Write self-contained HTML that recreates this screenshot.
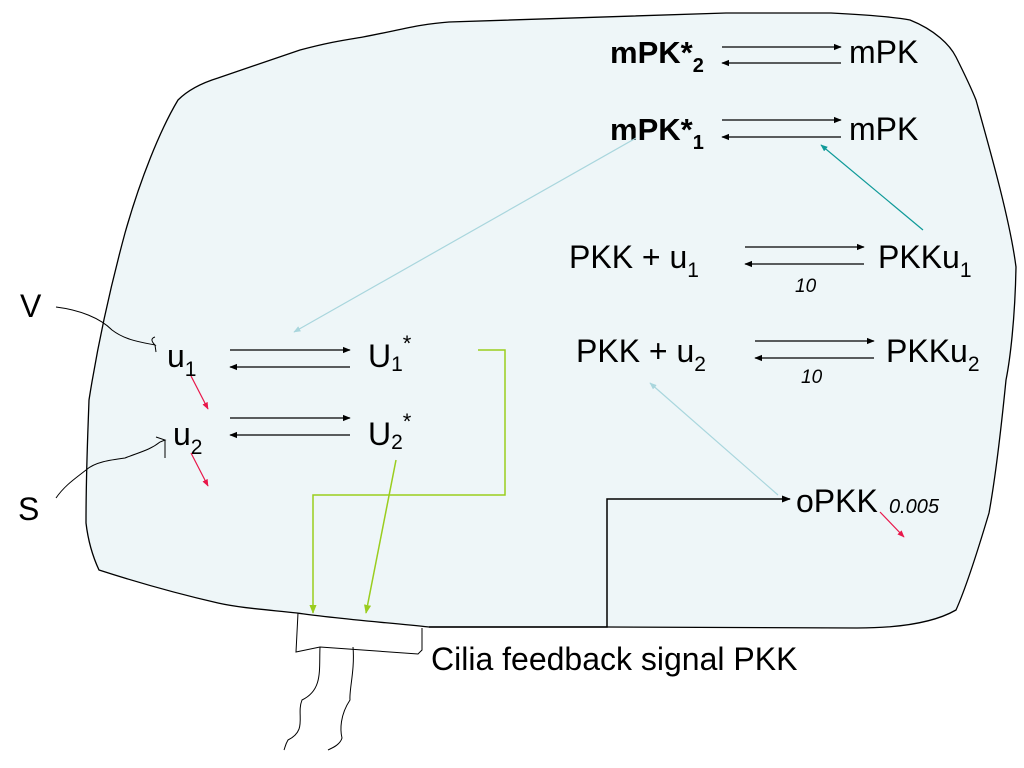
<!DOCTYPE html>
<html><head><meta charset="utf-8"><style>
html,body{margin:0;padding:0;background:#fff}
svg{display:block}
text{font-family:"Liberation Sans",sans-serif;fill:#000}
</style></head><body>
<svg width="1024" height="768" viewBox="0 0 1024 768" xmlns="http://www.w3.org/2000/svg">
<defs>
<marker id="ab" viewBox="0 0 10 10" refX="9" refY="5" markerWidth="6" markerHeight="6" orient="auto-start-reverse"><path d="M0,1 L10,5 L0,9 z" fill="#000"/></marker>
<marker id="ar" viewBox="0 0 10 10" refX="9" refY="5" markerWidth="6" markerHeight="6" orient="auto"><path d="M0,1 L10,5 L0,9 z" fill="#e8174a"/></marker>
<marker id="alb" viewBox="0 0 10 10" refX="9" refY="5" markerWidth="6" markerHeight="6" orient="auto"><path d="M0,1 L10,5 L0,9 z" fill="#a9d6dd"/></marker>
<marker id="at" viewBox="0 0 10 10" refX="9" refY="5" markerWidth="6" markerHeight="6" orient="auto"><path d="M0,1 L10,5 L0,9 z" fill="#0f9a99"/></marker>
<marker id="ag" viewBox="0 0 10 10" refX="9" refY="5" markerWidth="6" markerHeight="6" orient="auto"><path d="M0,1 L10,5 L0,9 z" fill="#9acd1e"/></marker>
</defs>
<path d="M178,100 C190,88 205,82 218,78 L300,50 C330,42 345,40 363,37 C400,30 420,24 449,22 L726,13 L831,13 C870,15 895,17 910,20 C935,30 950,45 956,57 C965,75 972,90 976,100 C990,150 1010,220 1016,267 C1015,320 1010,360 1006,380 C1000,440 995,480 989,513 C975,560 965,590 956,610 C930,625 890,628 857,628 L607,627 L429,627 C380,622 330,618 297,613 C270,610 240,608 218,603 C170,592 130,580 99,570 C92,555 88,540 86,523 C86,470 88,430 89,400 C100,330 115,270 125,233 C140,180 160,130 178,100 Z" fill="#eef6f8" stroke="#000" stroke-width="1.3"/>
<!-- cilia -->
<path d="M298,613 L296,652 L320,647 L418,654 L422,650 L422,628" fill="none" stroke="#000" stroke-width="1"/>
<path d="M320,647 C319,670 323,690 302,700 C296,715 308,730 288,740 C285,745 285,748 284,750" fill="none" stroke="#000" stroke-width="1"/>
<path d="M353,647 C355,670 349,690 350,700 C340,715 340,730 342,738 C340,745 332,748 328,750" fill="none" stroke="#000" stroke-width="1"/>
<text x="431" y="670" font-size="32">Cilia feedback signal PKK</text>
<!-- top reactions -->
<text x="610" y="63" font-size="31" font-weight="bold">mPK*<tspan font-size="20" dy="9">2</tspan></text>
<line x1="722" y1="47" x2="841" y2="47" stroke="#000" stroke-width="1.3" marker-end="url(#ab)"/>
<line x1="841" y1="63" x2="722" y2="63" stroke="#000" stroke-width="1.3" marker-end="url(#ab)"/>
<text x="849" y="63" font-size="32">mPK</text>
<text x="610" y="140" font-size="31" font-weight="bold">mPK*<tspan font-size="20" dy="9">1</tspan></text>
<line x1="722" y1="120" x2="841" y2="120" stroke="#000" stroke-width="1.3" marker-end="url(#ab)"/>
<line x1="841" y1="137" x2="722" y2="137" stroke="#000" stroke-width="1.3" marker-end="url(#ab)"/>
<text x="849" y="140" font-size="32">mPK</text>
<text x="569" y="268" font-size="32">PKK + u<tspan font-size="21" dy="9">1</tspan></text>
<line x1="745" y1="247" x2="864" y2="247" stroke="#000" stroke-width="1.3" marker-end="url(#ab)"/>
<line x1="864" y1="264" x2="745" y2="264" stroke="#000" stroke-width="1.3" marker-end="url(#ab)"/>
<text x="795" y="292" font-size="19" font-style="italic">10</text>
<text x="878" y="268" font-size="32">PKKu<tspan font-size="21" dy="9">1</tspan></text>
<text x="576" y="362" font-size="32">PKK + u<tspan font-size="21" dy="9">2</tspan></text>
<line x1="755" y1="341" x2="874" y2="341" stroke="#000" stroke-width="1.3" marker-end="url(#ab)"/>
<line x1="874" y1="358" x2="755" y2="358" stroke="#000" stroke-width="1.3" marker-end="url(#ab)"/>
<text x="801" y="383" font-size="19" font-style="italic">10</text>
<text x="886" y="362" font-size="32">PKKu<tspan font-size="21" dy="9">2</tspan></text>
<!-- left -->
<text x="167" y="367" font-size="32">u<tspan font-size="21" dy="9">1</tspan></text>
<line x1="230" y1="350" x2="350" y2="350" stroke="#000" stroke-width="1.3" marker-end="url(#ab)"/>
<line x1="350" y1="367" x2="230" y2="367" stroke="#000" stroke-width="1.3" marker-end="url(#ab)"/>
<text x="368" y="367" font-size="32">U<tspan font-size="21" dy="4">1</tspan><tspan font-size="22" dy="-20">*</tspan></text>
<text x="173" y="445" font-size="32">u<tspan font-size="21" dy="9">2</tspan></text>
<line x1="230" y1="418" x2="350" y2="418" stroke="#000" stroke-width="1.3" marker-end="url(#ab)"/>
<line x1="350" y1="435" x2="230" y2="435" stroke="#000" stroke-width="1.3" marker-end="url(#ab)"/>
<text x="368" y="445" font-size="32">U<tspan font-size="21" dy="4">2</tspan><tspan font-size="22" dy="-20">*</tspan></text>
<text x="20" y="317" font-size="32">V</text>
<text x="18" y="520" font-size="32">S</text>
<path d="M56,307 C80,310 100,318 112,330 C125,340 140,342 155,345 C150,340 152,338 155,337 M155,345 L156,352" fill="none" stroke="#000" stroke-width="1"/>
<path d="M56,498 C65,485 76,478 86,470 C95,462 110,460 125,458 C140,452 150,450 160,442 L165,440 L156,437 M165,440 L165,458" fill="none" stroke="#000" stroke-width="1"/>
<!-- red -->
<line x1="191" y1="376" x2="208" y2="409" stroke="#e8174a" stroke-width="1.2" marker-end="url(#ar)"/>
<line x1="191" y1="453" x2="208" y2="486" stroke="#e8174a" stroke-width="1.2" marker-end="url(#ar)"/>
<line x1="880" y1="512" x2="904" y2="537" stroke="#e8174a" stroke-width="1.2" marker-end="url(#ar)"/>
<!-- blue/teal -->
<line x1="636" y1="138" x2="294" y2="332" stroke="#a9d6dd" stroke-width="1.2" marker-end="url(#alb)"/>
<line x1="778" y1="495" x2="650" y2="383" stroke="#a9d6dd" stroke-width="1.2" marker-end="url(#alb)"/>
<line x1="923" y1="230" x2="821" y2="145" stroke="#0f9a99" stroke-width="1.2" marker-end="url(#at)"/>
<!-- green -->
<polyline points="478,350 505,350 505,495 313,495 313,613" fill="none" stroke="#9acd1e" stroke-width="1.5" marker-end="url(#ag)"/>
<line x1="396" y1="460" x2="366" y2="613" stroke="#9acd1e" stroke-width="1.5" marker-end="url(#ag)"/>
<!-- black feedback -->
<polyline points="429,627 607,627 607,499 790,499" fill="none" stroke="#000" stroke-width="1.5" marker-end="url(#ab)"/>
<text x="796" y="512" font-size="32">oPKK</text>
<text x="889" y="513" font-size="20" font-style="italic">0.005</text>
</svg>
</body></html>
